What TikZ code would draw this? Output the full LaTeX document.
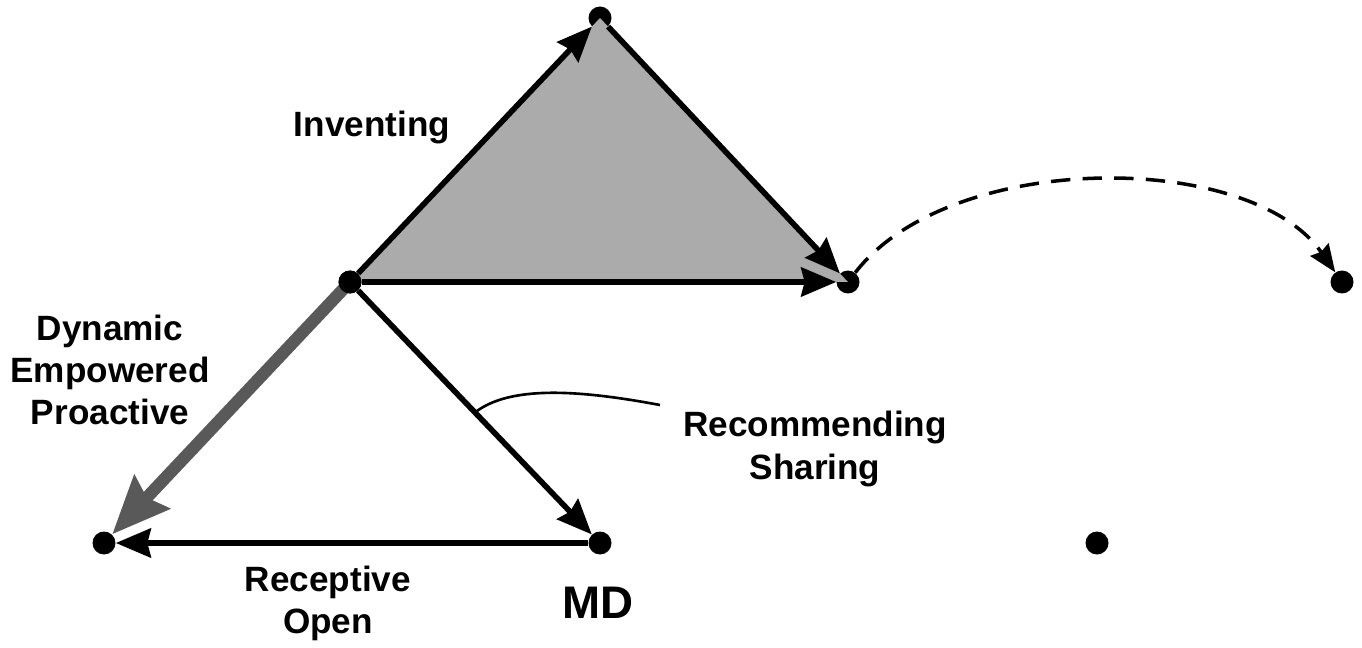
\documentclass[tikz,border=0pt]{standalone}
\usepackage{fontspec}
\setmainfont{Liberation Sans}
\usetikzlibrary{positioning, arrows.meta}

\begin{document}
\begin{tikzpicture}[
    x=0.02cm, y=-0.02cm,
    dot/.style={circle, fill=black, inner sep=0pt, minimum size=0.46cm},
    label/.style={font=\bfseries\fontsize{20}{24}\selectfont, align=center},
    arrow/.style={-{Stealth[inset=2pt, length=0.7cm, width=0.58cm]}, line width=3.2pt},
    bigarrow/.style={-{Stealth[inset=4pt, length=1.15cm, width=0.95cm]}, line width=7pt, draw=black!65}
]

\useasboundingbox (0,0) rectangle (1362,648);

% Points
\node[dot] (ctr) at (350,282) {};
\node[dot] (top) at (600,18) {};
\node[dot] (rgt) at (848,282) {};
\node[dot] (far) at (1342,282) {};
\node[dot] (bl) at (104,543) {};
\node[dot] (md) at (600,543) {};
\node[dot] (br) at (1097,543) {};

% Shaded triangle
\fill[black!33] (ctr.center) -- (top.center) -- (rgt.center) -- cycle;

% Arrows
\draw[arrow] (ctr) -- (top);
\draw[arrow] (top) -- (rgt);
\draw[arrow] (ctr) -- (rgt);
\draw[arrow] (ctr) -- (md) coordinate[pos=0.5] (ptr);
\draw[arrow] (md) -- (bl);
\draw[bigarrow, shorten <=4pt] (ctr.center) -- (bl);
\node[dot] at (ctr) {};

% Dashed path
\draw[dashed, dash pattern=on 11pt off 7pt, line width=2pt,
      -{Stealth[inset=1.5pt, length=0.55cm, width=0.44cm]}]
    (rgt) .. controls (950,150) and (1250,150) .. (far);

% Pointer
\coordinate (ptrend) at (660,405);
\draw[line width=1.5pt] (ptr) .. controls (510,385) and (580,390) .. (ptrend);

% Labels
\node[label] (inv) at (372,127) {Inventing};
\node[label] (dyn) at (110,370) {Dynamic\\Empowered\\Proactive};
\node[label] (rec) at (815,449) {Recommending\\Sharing};
\node[label] (rcp) at (328,603) {Receptive\\Open};
\node[font=\bfseries\fontsize{26}{30}\selectfont] (mdl) at (598,603) {MD};

\end{tikzpicture}
\end{document}
